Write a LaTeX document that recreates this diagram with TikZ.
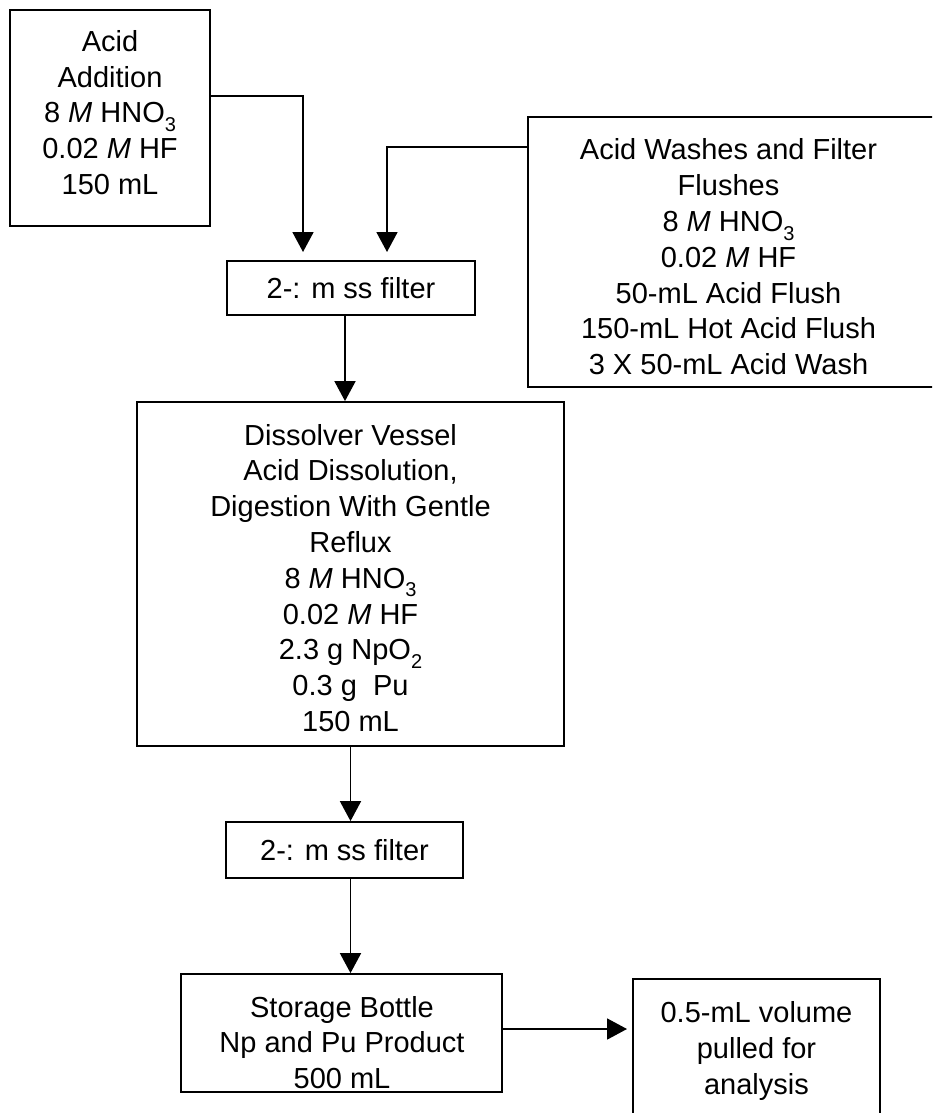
\documentclass[tikz,border=0pt]{standalone}
\usepackage{fontspec}
\setmainfont{Liberation Sans}
\usetikzlibrary{arrows.meta}
\newcommand\sbs[1]{\raisebox{-8.5pt}{\fontsize{20}{20}\selectfont #1}}
\begin{document}
\begin{tikzpicture}[x=1pt,y=-1pt,
  boxshape/.style={draw, line width=1.8pt, inner sep=0pt, rectangle},
  txt/.style={align=center, inner sep=0pt, font=\fontsize{29}{35.8}\selectfont},
  arr/.style={line width=1.8pt, -{Triangle[width=21pt,length=20pt]}}]
\clip (0,0) rectangle (932,1113);
\useasboundingbox (0,0) rectangle (932,1113);
\fill[white] (0,0) rectangle (932,1113);

% boxes
\node[boxshape, minimum width=200pt, minimum height=216pt] (add) at (110,118) {};
\node[txt] (addT) at (110,112.5) {Acid\\Addition\\8 \textit{M} HNO\sbs{3}\\0.02 \textit{M} HF\\150 mL};

\node[boxshape, minimum width=412pt, minimum height=270pt] (wash) at (734,252) {};
\node[txt] (washT) at (728.5,257) {Acid Washes and Filter\\Flushes\\8 \textit{M} HNO\sbs{3}\\0.02 \textit{M} HF\\50-mL Acid Flush\\150-mL Hot Acid Flush\\3 X 50-mL Acid Wash};

\node[boxshape, txt, minimum width=248pt, minimum height=54pt] (f1) at (351,288) {2-: m ss filter};

\node[boxshape, minimum width=427pt, minimum height=344pt] (diss) at (350.5,574) {};
\node[txt] (dissT) at (350.5,578) {Dissolver Vessel\\Acid Dissolution,\\Digestion With Gentle\\Reflux\\8 \textit{M} HNO\sbs{3}\\0.02 \textit{M} HF\\2.3 g NpO\sbs{2}\\0.3 g\ \ Pu\\150 mL};

\node[boxshape, txt, minimum width=237pt, minimum height=56pt] (f2) at (344.5,850) {2-: m ss filter};

\node[boxshape, minimum width=321pt, minimum height=118pt] (stor) at (341.5,1033) {};
\node[txt] (storT) at (342,1042.5) {Storage Bottle\\Np and Pu Product\\500 mL};

\node[boxshape, minimum width=247pt, minimum height=151pt] (ana) at (756.5,1054.5) {};
\node[txt] (anaT) at (756.5,1051) {0.5-mL volume\\pulled for\\analysis};

% connector ends
\coordinate (t1) at (303,252);
\coordinate (t2) at (387,252);
\coordinate (t3) at (627,1029);

% connectors
\draw[arr] ([yshift=-87pt]add.north east) -| (t1);
\draw[arr] ([yshift=-31pt]wash.north west) -| (t2);
\draw[arr] ([xshift=-6pt]f1.south) -- ([xshift=-6pt]f1.south |- diss.north);
\draw[arr] (diss.south) -- (diss.south |- f2.north);
\draw[arr] (diss.south |- f2.south) -- (diss.south |- stor.north);
\draw[arr] (stor.east |- t3) -- (t3);
\end{tikzpicture}
\end{document}
